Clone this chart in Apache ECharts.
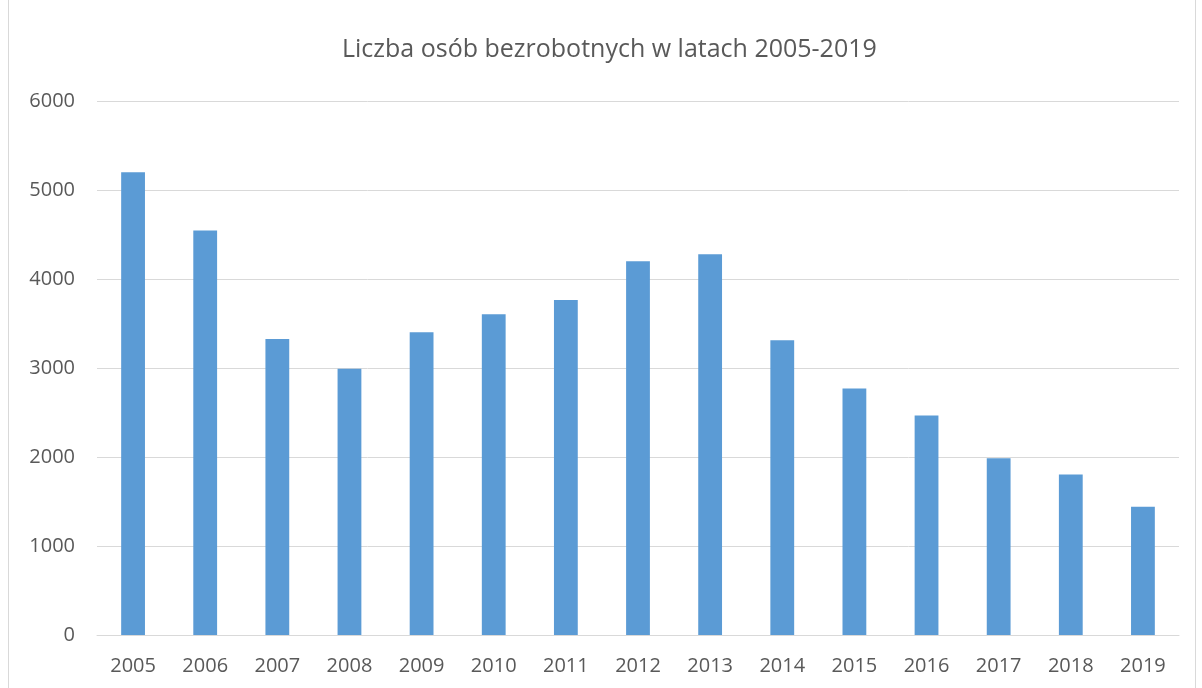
<!DOCTYPE html>
<html>
<head>
<meta charset="utf-8">
<script src="https://cdn.jsdelivr.net/npm/echarts@6/dist/echarts.min.js"></script>
<style>
  html, body { margin: 0; padding: 0; background: #fff; }
  #frame {
    position: absolute; left: 8px; top: -2px; width: 1188px; height: 700px;
    border: 1px solid #d9d9d9; box-sizing: border-box;
  }
  #chart { position: absolute; left: 0; top: 0; width: 1202px; height: 688px; }
</style>
</head>
<body>
<div id="frame"></div>
<div id="chart"></div>
<script>
// lata i liczba bezrobotnych
const years = ['2005', '2006', '2007', '2008', '2009', '2010', '2011', '2012', '2013', '2014', '2015', '2016', '2017', '2018', '2019']
const unemployed = [5200, 4545, 3326, 2992, 3401, 3603, 3764, 4200, 4278, 3311, 2770, 2465, 1985, 1803, 1442]
const yTicks = [0, 1000, 2000, 3000, 4000, 5000, 6000]

const chart = echarts.init(document.getElementById('chart'))

const font = '"Open Sans", "Liberation Sans", sans-serif'

const option = {
  animation: false,
  backgroundColor: 'transparent',
  title: {
    text: 'Liczba osób bezrobotnych w latach 2005-2019',
    left: 337,
    top: 32,
    textStyle: {
      color: '#595959',
      fontSize: 25,
      fontWeight: 'normal',
      fontFamily: font
    }
  },
  grid: {
    left: 97,
    right: 23,
    top: 101,
    bottom: 53
  },
  xAxis: {
    type: 'category',
    data: years,
    axisLine: { lineStyle: { color: '#d9d9d9', width: 1 } },
    axisTick: { show: false },
    axisLabel: {
      color: '#595959',
      fontSize: 20,
      fontFamily: font,
      margin: 21
    }
  },
  yAxis: {
    type: 'value',
    min: yTicks[0],
    max: yTicks[yTicks.length - 1],
    interval: 1000,
    axisLine: { show: false },
    axisTick: { show: false },
    axisLabel: {
      color: '#595959',
      fontSize: 20,
      fontFamily: font,
      margin: 22,
      formatter: (v) => String(v)
    },
    splitLine: {
      lineStyle: { color: '#d9d9d9', width: 1 }
    }
  },
  series: [
    {
      name: 'Liczba osób bezrobotnych',
      type: 'bar',
      data: unemployed,
      barWidth: '33%',
      itemStyle: { color: '#5b9bd5' }
    }
  ]
}

chart.setOption(option)
</script>
</body>
</html>
